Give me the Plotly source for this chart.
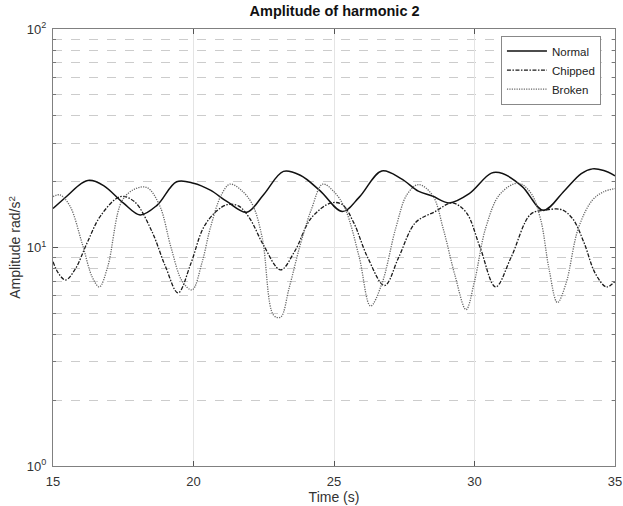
import plotly.graph_objects as go

# Time samples (s) and amplitudes (rad/s^2) for each condition
normal_t = [15.0, 15.5, 16.0, 16.3, 16.8, 17.5, 18.1, 18.7, 19.4, 20.0, 20.6, 21.2, 21.9,
            22.5, 23.2, 23.8, 24.5, 25.3, 25.9, 26.7, 27.4, 28.0, 28.5, 29.1, 29.8,
            30.6, 31.0, 31.7, 32.45, 33.2, 33.8, 34.2, 34.6, 35.0]
normal_v = [15.1, 17.2, 19.6, 20.3, 19.2, 16.0, 14.1, 15.6, 20.0, 19.7, 18.3, 16.2, 14.5,
            17.5, 22.3, 21.4, 18.2, 14.6, 17.0, 22.4, 20.6, 18.1, 17.2, 16.0, 17.6,
            21.9, 21.8, 19.0, 14.8, 18.2, 21.8, 22.9, 22.5, 21.3]

chipped_t = [15.0, 15.2, 15.45, 15.8, 16.2, 16.7, 17.4, 17.9, 18.5, 19.0, 19.45, 19.9,
             20.35, 20.8, 21.2, 21.6, 22.0, 22.5, 23.1, 23.6, 24.2, 24.9, 25.3, 25.7,
             26.2, 26.8, 27.3, 27.9, 28.6, 29.2, 29.7, 30.2, 30.75, 31.3, 32.0, 32.5,
             33.1, 33.5, 33.9, 34.3, 34.7, 35.0]
chipped_v = [8.6, 7.6, 7.1, 8.0, 10.4, 14.0, 17.1, 16.2, 12.0, 8.2, 6.2, 8.4,
             12.3, 14.6, 15.7, 15.5, 13.6, 10.2, 7.9, 9.6, 13.7, 16.0, 15.7, 13.0,
             9.0, 6.7, 9.0, 13.0, 14.6, 16.0, 14.5, 10.0, 6.6, 9.0, 14.2, 14.8,
             14.9, 13.5, 10.5, 7.6, 6.6, 7.0]

broken_t = [15.0, 15.25, 15.6, 16.05, 16.4, 16.65, 16.95, 17.45, 17.9, 18.35, 18.8,
            19.2, 19.6, 19.95, 20.3, 20.6, 21.0, 21.3, 21.7, 22.1, 22.45, 22.85, 23.1,
            23.4, 23.8, 24.2, 24.6, 25.0, 25.4, 25.9, 26.3, 26.7, 27.2, 27.6, 28.0,
            28.5, 28.9, 29.3, 29.7, 30.0, 30.4, 30.9, 31.55, 32.0, 32.35, 32.65, 32.95,
            33.25, 33.7, 34.2, 34.6, 35.0]
broken_v = [17.1, 17.4, 15.5, 10.3, 7.3, 6.6, 8.2, 16.3, 18.5, 18.8, 15.5,
            10.0, 7.0, 6.4, 8.5, 12.3, 17.5, 19.5, 18.3, 15.7, 11.0, 4.9, 4.8,
            6.5, 10.3, 15.0, 19.5, 18.0, 15.0, 9.0, 5.4, 6.8, 12.3, 17.5, 19.4,
            17.4, 12.0, 7.5, 5.2, 7.0, 12.3, 17.5, 19.7, 17.8, 13.5, 8.0, 5.6,
            6.8, 12.3, 16.5, 18.0, 18.6]

series_names = ["Normal", "Chipped", "Broken"]
x_ticks = [15, 20, 25, 30, 35]
y_ticks = [1, 10, 100]
y_tick_text = ["10<sup>0</sup>", "10<sup>1</sup>", "10<sup>2</sup>"]

font_family = "Liberation Sans, Arial, sans-serif"

fig = go.Figure()
styles = [
    dict(color="#111111", width=1.5, dash="solid"),
    dict(color="#1a1a1a", width=1.3, dash="4px,1.5px,1.5px,1.5px"),
    dict(color="#666666", width=1.3, dash="1.2px,1.2px"),
]
for name, t, v, st in zip(series_names,
                          [normal_t, chipped_t, broken_t],
                          [normal_v, chipped_v, broken_v],
                          styles):
    fig.add_trace(go.Scatter(x=t, y=v, mode="lines", name=name,
                             line=dict(shape="spline", smoothing=1.0, **st)))

axis_common = dict(
    showline=True, linecolor="#808080", linewidth=1, mirror="ticks",
    ticks="inside", ticklen=5, tickcolor="#555555",
    tickfont=dict(family=font_family, size=13, color="#333333"),
    zeroline=False, ticklabeloverflow="allow", automargin=False,
)

fig.update_layout(
    width=623, height=506,
    margin=dict(l=53, r=8, t=29, b=40),
    paper_bgcolor="white", plot_bgcolor="white",
    font=dict(family=font_family, color="#222222"),
    title=dict(text="<b>Amplitude of harmonic 2</b>", x=0.537, xanchor="center",
               y=0.988, yanchor="top", font=dict(size=14.5, color="#111111")),
    xaxis=dict(range=[15, 35], tickvals=x_ticks, showgrid=True, gridcolor="#e4e4e4",
               ticklabelstandoff=3,
               title=dict(text="Time (s)", font=dict(size=14, color="#333333"), standoff=3),
               **axis_common),
    yaxis=dict(type="log", range=[0, 2], tickvals=y_ticks, ticktext=y_tick_text,
               showgrid=True, gridcolor="#e4e4e4", ticklabelstandoff=3,
               title=dict(text="Amplitude rad/s<sup>2</sup>",
                          font=dict(size=14, color="#333333"), standoff=2),
               minor=dict(dtick="D1", ticks="inside", ticklen=3, tickcolor="#777777",
                          showgrid=True, gridcolor="#cccccc", griddash="dash", gridwidth=1),
               **axis_common),
    legend=dict(x=0.975, xanchor="right", y=0.985, yanchor="top",
                bgcolor="white", bordercolor="#888888", borderwidth=1,
                font=dict(size=11.5, color="#222222"), tracegroupgap=0,
                itemwidth=40),
    showlegend=True,
)

fig.write_html("out.html")
